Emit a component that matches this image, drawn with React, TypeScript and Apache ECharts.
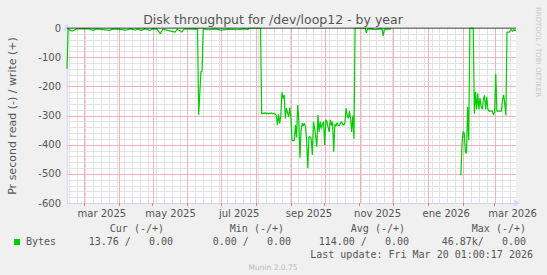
import React, { useEffect, useRef } from "react";
import * as echarts from "echarts";

const DAY_MS = 86400000;
const rangeStart = "2025-02-14";
const rangeEndDay = 399; // 2026-03-20

const monthStarts = [
  "2025-03-01", "2025-04-01", "2025-05-01", "2025-06-01", "2025-07-01", "2025-08-01",
  "2025-09-01", "2025-10-01", "2025-11-01", "2025-12-01", "2026-01-01", "2026-02-01", "2026-03-01",
];
const xLabelDates = ["2025-03-17", "2025-05-17", "2025-07-17", "2025-09-17", "2025-11-17", "2026-01-17", "2026-03-17"];
const xLabels = ["mar 2025", "may 2025", "jul 2025", "sep 2025", "nov 2025", "ene 2026", "mar 2026"];
const firstWeekLine = "2025-02-16";
const yMin = -600;
const yMax = 0;
const yMajorStep = 100;
const yMinorStep = 20;

// read throughput (negative = read), day offsets from rangeStart
const earlyDays = [0, 1, 4, 6, 8, 20, 23, 26, 38, 41, 53, 56, 61, 63, 66, 69, 74, 76, 80, 83, 85, 96, 98, 102, 104, 116, 117, 119, 120, 121, 126, 132, 137, 144, 151, 157, 161, 162, 172];
const earlyValues = [-140, -3, -10, -9, -3, -3, -8, -3, -8, -3, -7, -3, -7, -3, -8, -3, -8, -3, -4, -20, -4, -14, -4, -14, -4, -3, -298, -150, -148, -3, -6, -3, -7, -4, -6, -3, -5, 0, 0];

const summerStartDay = 173;
const summerValues = [
  -295, -292, -293, -291, -293, -292, -294, -292, -293, -291, -294, -292, -295, -300, -333, -296, -327, -300,
  -220, -241, -230, -310, -275, -290, -305, -273, -308, -386, -386, -386, -333, -375, -264, -317, -445, -350,
  -327, -335, -327, -340, -390, -481, -373, -373, -380, -435, -321, -344, -371, -407, -298, -356, -321, -345,
  -330, -321, -401, -315, -321, -340, -356, -315, -335, -321, -424, -330, -337, -325, -333, -335, -327, -321,
  -330, -333, -325, -275, -300, -310, -285, -310, -356, -300, -380, 0,
];

const autumnDays = [264, 265, 266, 267, 270, 274, 278, 280, 281, 282, 285, 288, 289];
const autumnValues = [0, 0, -17, -4, -3, -6, -3, -4, -27, -5, -3, -4, null];

const winterStartDay = 350;
const winterValues = [
  -505, -400, -355, -360, -425, -430, -270, -385, 0, 0, 0, 0, -294, -219, -279, -224, -279, -240, -270, -279,
  -245, -231, -279, -236, -279, -285, -285, -285, -285, -299, -285, -157, -285, -285, -285, -285, -285, -246,
  -229, -260, -300, -14, -14, -14, -8, -5, -12, -5, -10, -6,
];

const legendHeaders = ["Cur (-/+)", "Min (-/+)", "Avg (-/+)", "Max (-/+)"];
const legendValues = ["13.76 /   0.00", "0.00 /   0.00", "114.00 /   0.00", "46.87k/   0.00"];
const legendName = "Bytes";
const lastUpdate = "Last update: Fri Mar 20 01:00:17 2026";
const titleText = "Disk throughput for /dev/loop12 - by year";
const yName = "Pr second read (-) / write (+)";

export default function App() {
  const ref = useRef<HTMLDivElement>(null);
  useEffect(() => {
    const t0 = Date.parse(rangeStart);
    const tMax = t0 + rangeEndDay * DAY_MS;
    const pts: any[] = [];
    const push = (d: number, v: number | null) => pts.push([t0 + d * DAY_MS, v === null ? "-" : v]);
    earlyDays.forEach((d, i) => push(d, earlyValues[i]));
    summerValues.forEach((v, i) => push(summerStartDay + i, v));
    autumnDays.forEach((d, i) => push(d, autumnValues[i]));
    winterValues.forEach((v, i) => push(winterStartDay + i, v));

    const monthTimes = monthStarts.map((s) => Date.parse(s));
    const labelTimes = xLabelDates.map((s) => Date.parse(s));
    const weekTimes: number[] = [];
    for (let t = Date.parse(firstWeekLine); t < tMax; t += 7 * DAY_MS) weekTimes.push(t);

    const minorGrid = "#e3e3e3";
    const majorGrid = "#f0b4b4";

    const mono = "DejaVu Sans Mono";
    const sans = "DejaVu Sans";
    const textCol = "#555";
    const graphics: any[] = [
      { type: "text", x: 273, y: 19, style: { text: titleText, fill: textCol, fontSize: 12.5, fontFamily: sans, textAlign: "center", textVerticalAlign: "middle" } },
      { type: "text", x: 12, y: 116, rotation: Math.PI / 2, style: { text: yName, fill: textCol, fontSize: 11, fontFamily: sans, textAlign: "center", textVerticalAlign: "middle" } },
      { type: "text", x: 538, y: 52, rotation: -Math.PI / 2, style: { text: "RRDTOOL / TOBI OETIKER", fill: "#c8c8c8", fontSize: 7, fontFamily: sans, textAlign: "center", textVerticalAlign: "middle" } },
      { type: "rect", shape: { x: 14, y: 239, width: 6, height: 6 }, style: { fill: "#00cc00" } },
      { type: "text", x: 26, y: 241.5, style: { text: legendName, fill: textCol, fontSize: 10, fontFamily: mono, textAlign: "left", textVerticalAlign: "middle" } },
      { type: "text", x: 533, y: 254, style: { text: lastUpdate, fill: textCol, fontSize: 10, fontFamily: mono, textAlign: "right", textVerticalAlign: "middle" } },
      { type: "text", x: 273, y: 267, style: { text: "Munin 2.0.75", fill: "#bbbbbb", fontSize: 7.5, fontFamily: sans, textAlign: "center", textVerticalAlign: "middle" } },
    ];
    const headerRight = [164, 284, 405, 526];
    const valueRight = [173, 291, 409, 526];
    legendHeaders.forEach((h, i) =>
      graphics.push({ type: "text", x: headerRight[i], y: 228.6, style: { text: h, fill: textCol, fontSize: 10, fontFamily: mono, textAlign: "right", textVerticalAlign: "middle" } })
    );
    legendValues.forEach((h, i) =>
      graphics.push({ type: "text", x: valueRight[i], y: 241.5, style: { text: h, fill: textCol, fontSize: 10, fontFamily: mono, textAlign: "right", textVerticalAlign: "middle" } })
    );

    const option: any = {
      animation: false,
      backgroundColor: "#f0f0f0",
      textStyle: { fontFamily: sans },
      grid: { left: 67, top: 28, width: 449, height: 175, show: true, backgroundColor: "#ffffff", borderWidth: 0 },
      xAxis: {
        type: "value",
        min: t0,
        max: tMax,
        axisLine: { show: true, onZero: false, lineStyle: { color: "#CFD6F8" }, symbol: ["none", "arrow"], symbolSize: [6, 7], symbolOffset: [0, 4] },
        axisTick: { show: true, customValues: monthTimes, length: 3, lineStyle: { color: "#e08080" } },
        axisLabel: {
          customValues: labelTimes,
          formatter: (v: number) => {
            const i = labelTimes.indexOf(v);
            return i >= 0 ? xLabels[i] : "";
          },
          color: textCol,
          fontSize: 10,
          fontFamily: sans,
          margin: 5,
        },
        splitLine: { show: false },
      },
      yAxis: {
        type: "value",
        min: yMin,
        max: yMax,
        interval: yMajorStep,
        axisLine: { show: true, onZero: false, lineStyle: { color: "#CFD6F8" }, symbol: ["none", "arrow"], symbolSize: [6, 7], symbolOffset: [0, 4] },
        axisTick: { show: false },
        axisLabel: { color: textCol, fontSize: 10, fontFamily: sans, margin: 6 },
        splitLine: { show: false },
      },
      series: [
        {
          name: "Bytes",
          type: "line",
          z: 3,
          showSymbol: false,
          connectNulls: false,
          data: pts,
          lineStyle: { color: "#00cc00", width: 1.2 },
          itemStyle: { color: "#00cc00" },
        },
        {
          name: "zero",
          type: "line",
          z: 4,
          silent: true,
          showSymbol: false,
          data: [[t0, 0], [tMax, 0]],
          lineStyle: { color: "#000000", width: 1 },
        },
      ],
      graphic: graphics,
    };
    const chart = echarts.init(ref.current!, null, { renderer: "svg" });
    chart.setOption(option);

    // pixel-snapped grid lines, positioned through the chart's own scales
    const top = chart.convertToPixel({ gridIndex: 0 }, [t0, yMax]) as number[];
    const bottom = chart.convertToPixel({ gridIndex: 0 }, [tMax, yMin]) as number[];
    const x0 = top[0], x1 = bottom[0], y0 = top[1], y1 = bottom[1];
    const gridEls: any[] = [];
    const vLine = (t: number, color: string) => {
      const p = chart.convertToPixel({ gridIndex: 0 }, [t, yMin]) as number[];
      const x = Math.round(p[0]) + 0.5;
      gridEls.push({ type: "line", z: 1, silent: true, shape: { x1: x, y1: y0, x2: x, y2: y1 }, style: { stroke: color, lineWidth: 1 } });
    };
    const hLine = (v: number, color: string) => {
      const p = chart.convertToPixel({ gridIndex: 0 }, [t0, v]) as number[];
      const y = Math.round(p[1]) + 0.5;
      gridEls.push({ type: "line", z: 1, silent: true, shape: { x1: x0, y1: y, x2: x1, y2: y }, style: { stroke: color, lineWidth: 1 } });
    };
    for (let v = yMin + yMinorStep; v < yMax; v += yMinorStep) {
      if (v % yMajorStep !== 0) hLine(v, minorGrid);
    }
    weekTimes.forEach((t) => vLine(t, minorGrid));
    for (let v = yMin + yMajorStep; v < yMax; v += yMajorStep) hLine(v, majorGrid);
    monthTimes.forEach((t) => vLine(t, majorGrid));
    chart.setOption({ graphic: [...graphics, ...gridEls] });

    return () => chart.dispose();
  }, []);
  return <div ref={ref} style={{ position: "absolute", left: 0, top: 0, width: 547, height: 275 }} />;
}
